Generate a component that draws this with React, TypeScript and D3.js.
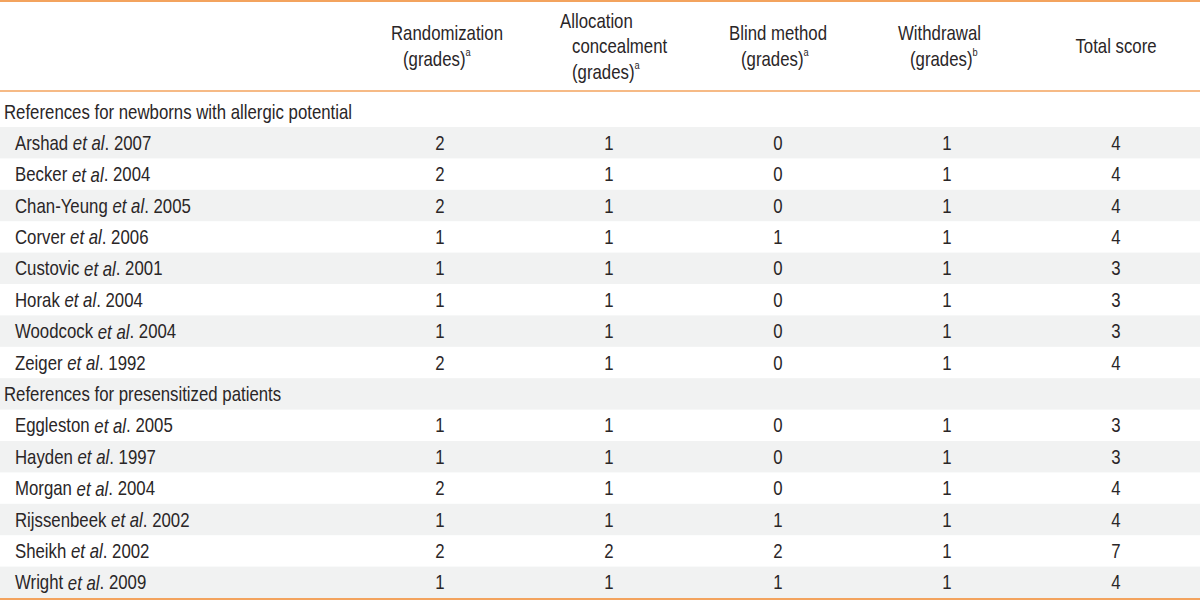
import React from "react";
import * as d3 from "d3";

const columns = ["Randomization", "Allocation concealment", "Blind method", "Withdrawal", "Total score"];
const headerLines: string[][] = [
  ["Randomization", "(grades)|a"],
  ["Allocation", "concealment", "(grades)|a"],
  ["Blind method", "(grades)|a"],
  ["Withdrawal", "(grades)|b"],
  ["Total score"],
];
const groups = ["References for newborns with allergic potential", "References for presensitized patients"];
const studyAuthors = [
  "Arshad", "Becker", "Chan-Yeung", "Corver", "Custovic", "Horak", "Woodcock", "Zeiger",
  "Eggleston", "Hayden", "Morgan", "Rijssenbeek", "Sheikh", "Wright",
];
const studyYears = [2007, 2004, 2005, 2006, 2001, 2004, 2004, 1992, 2005, 1997, 2004, 2002, 2002, 2009];
const studyGroup = [0, 0, 0, 0, 0, 0, 0, 0, 1, 1, 1, 1, 1, 1];
const randomization = [2, 2, 2, 1, 1, 1, 1, 2, 1, 1, 2, 1, 2, 1];
const allocation = [1, 1, 1, 1, 1, 1, 1, 1, 1, 1, 1, 1, 2, 1];
const blind = [0, 0, 0, 1, 0, 0, 0, 0, 0, 0, 0, 1, 2, 1];
const withdrawal = [1, 1, 1, 1, 1, 1, 1, 1, 1, 1, 1, 1, 1, 1];
const totalScore = [4, 4, 4, 4, 3, 3, 3, 4, 3, 3, 4, 4, 7, 4];

const FONT = "'Liberation Sans', Arial, sans-serif";
const ORANGE = "#f3a35e";
const STRIPE = "#f1f2f2";
const TEXT = "#2a2627";
const SX = 0.84;
const FS = 20;

type Row = { kind: "group"; label: string } | { kind: "study"; i: number };

function T(props: { x: number; y: number; anchor?: "start" | "middle" | "end"; children: React.ReactNode }) {
  return (
    <text
      transform={`translate(${props.x},${props.y}) scale(${SX},1)`}
      textAnchor={props.anchor || "start"}
      dominantBaseline="central"
      fontSize={FS}
      fill={TEXT}
    >
      {props.children}
    </text>
  );
}

export default function App() {
  const W = 1200;
  const H = 601;
  const rows: Row[] = [];
  groups.forEach((g, gi) => {
    rows.push({ kind: "group", label: g });
    studyAuthors.forEach((_, i) => {
      if (studyGroup[i] === gi) rows.push({ kind: "study", i });
    });
  });
  const headerBottom = 91;
  const firstRowTop = 127;
  const rowH = (598 - firstRowTop) / (rows.length - 1);
  const y = d3.scaleLinear().domain([1, rows.length]).range([firstRowTop, firstRowTop + rowH * (rows.length - 1)]);

  const colX = d3.scalePoint<string>().domain(columns).range([440, 1116]);
  const values = [randomization, allocation, blind, withdrawal, totalScore];

  const renderHeader = (c: number) => {
    const lines = headerLines[c];
    const lh = 25.5;
    const mid = 46;
    const y0 = mid - ((lines.length - 1) * lh) / 2;
    const cx = colX(columns[c])!;
    return lines.map((ln, k) => {
      const [main, sup] = ln.split("|");
      if (lines.length === 1) {
        return (
          <T key={k} x={cx} y={y0} anchor="middle">
            {main}
          </T>
        );
      }
      return (
        <T key={k} x={cx + (k === 0 ? -49 : -37)} y={y0 + k * lh}>
          {main}
          {sup && <tspan fontSize={11} dy={-7}>{sup}</tspan>}
        </T>
      );
    });
  };

  return (
    <svg width={W} height={H} style={{ position: "absolute", left: 0, top: 0, background: "#fff" }} fontFamily={FONT}>
      {rows.map((r, ri) =>
        ri % 2 === 1 ? <rect key={"s" + ri} x={0} y={y(ri)} width={W} height={rowH} fill={STRIPE} /> : null
      )}
      <line x1={0} x2={W} y1={1} y2={1} stroke={ORANGE} strokeWidth={2} />
      <line x1={0} x2={W} y1={headerBottom} y2={headerBottom} stroke={ORANGE} strokeWidth={1.5} />
      <line x1={0} x2={W} y1={599} y2={599} stroke={ORANGE} strokeWidth={2} />
      {columns.map((_, c) => (
        <g key={"h" + c}>{renderHeader(c)}</g>
      ))}
      {rows.map((r, ri) => {
        const cy = ri === 0 ? 112 : y(ri) + rowH / 2;
        if (r.kind === "group") {
          return (
            <T key={"r" + ri} x={4} y={cy}>
              {r.label}
            </T>
          );
        }
        const i = r.i;
        return (
          <g key={"r" + ri}>
            <T x={15} y={cy}>
              {studyAuthors[i]} <tspan fontStyle="italic">et al</tspan>. {studyYears[i]}
            </T>
            {values.map((v, c) => (
              <T key={c} x={colX(columns[c])!} y={cy} anchor="middle">
                {v[i]}
              </T>
            ))}
          </g>
        );
      })}
    </svg>
  );
}
